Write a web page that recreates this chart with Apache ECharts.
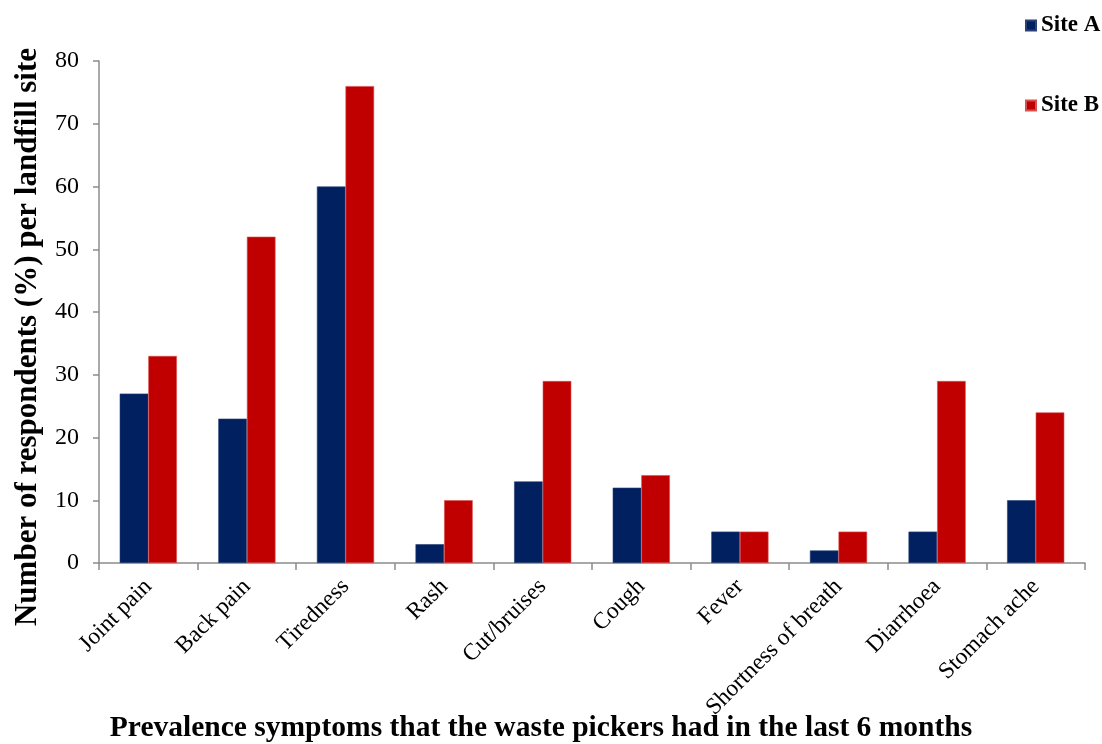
<!DOCTYPE html>
<html>
<head>
<meta charset="utf-8">
<script src="https://cdn.jsdelivr.net/npm/echarts@6/dist/echarts.min.js"></script>
<style>
  html, body { margin: 0; padding: 0; background: #fff; }
  #chart { width: 1102px; height: 744px; }
</style>
</head>
<body>
<div id="chart"></div>
<script>
// symptoms on the x axis
var categories = ['Joint pain', 'Back pain', 'Tiredness', 'Rash', 'Cut/bruises', 'Cough', 'Fever', 'Shortness of breath', 'Diarrhoea', 'Stomach ache'];
// % of respondents per landfill site
var siteA = [27, 23, 60, 3, 13, 12, 5, 2, 5, 10];
var siteB = [33, 52, 76, 10, 29, 14, 5, 5, 29, 24];
var seriesNames = ['Site A', 'Site B'];

var font = '"Liberation Serif", "Times New Roman", serif';
var axisGrey = '#8c8c8c';

var chart = echarts.init(document.getElementById('chart'));

var option = {
  backgroundColor: '#fff',
  color: ['#002060', '#C00000'],
  textStyle: { fontFamily: font },
  legend: {
    orient: 'vertical',
    left: 1020,
    top: 9,
    itemGap: 57,
    itemWidth: 10,
    itemHeight: 10,
    icon: 'rect',
    textStyle: { fontFamily: font, fontSize: 23, fontWeight: 'bold', color: '#000' },
    data: seriesNames
  },
  grid: {
    left: 99,
    right: 17,
    top: 61,
    bottom: 181
  },
  xAxis: {
    type: 'category',
    data: categories,
    axisLine: { lineStyle: { color: axisGrey, width: 1.5 } },
    axisTick: { show: true, alignWithLabel: false, length: 7, lineStyle: { color: axisGrey, width: 1.5 } },
    axisLabel: {
      rotate: 45,
      interval: 0,
      margin: 20,
      fontFamily: font,
      fontSize: 23.5,
      color: '#000'
    }
  },
  yAxis: {
    type: 'value',
    min: 0,
    max: 80,
    interval: 10,
    axisLine: { show: true, lineStyle: { color: axisGrey, width: 1.5 } },
    axisTick: { show: true, length: 6, lineStyle: { color: axisGrey, width: 1.5 } },
    splitLine: { show: false },
    axisLabel: {
      margin: 20,
      fontFamily: font,
      fontSize: 24,
      color: '#000'
    }
  },
  graphic: [
    {
      type: 'text',
      x: 28,
      y: 337,
      rotation: Math.PI / 2,
      style: {
        text: 'Number of respondents (%) per landfill site',
        fontFamily: font,
        fontSize: 31,
        fontWeight: 'bold',
        fill: '#000',
        align: 'center',
        verticalAlign: 'middle'
      }
    },
    {
      type: 'text',
      x: 541,
      y: 728,
      style: {
        text: 'Prevalence symptoms that the waste pickers had in the last 6 months',
        fontFamily: font,
        fontSize: 29.5,
        fontWeight: 'bold',
        fill: '#000',
        align: 'center',
        verticalAlign: 'middle'
      }
    }
  ],
  series: [
    {
      name: seriesNames[0],
      type: 'bar',
      data: siteA,
      barGap: '0%',
      barCategoryGap: '42%',
      itemStyle: { borderColor: '#2a4275', borderWidth: 0.6 }
    },
    {
      name: seriesNames[1],
      type: 'bar',
      data: siteB,
      barGap: '0%',
      barCategoryGap: '42%',
      itemStyle: { borderColor: '#d95050', borderWidth: 0.6 }
    }
  ]
};

chart.setOption(option);
</script>
</body>
</html>
